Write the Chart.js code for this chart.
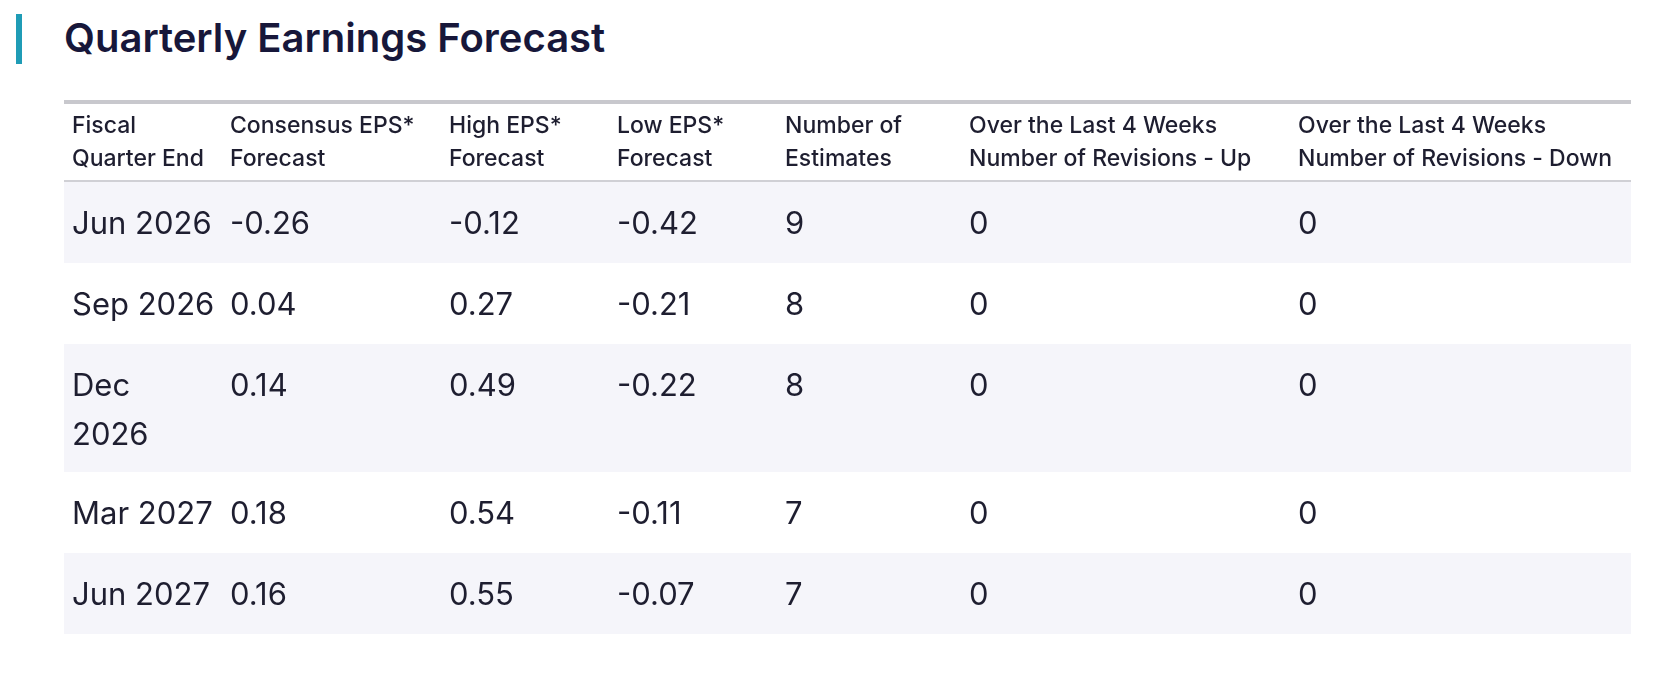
<!DOCTYPE html>
<html>
<head>
<meta charset="utf-8">
<title>Quarterly Earnings Forecast</title>
<script src="https://cdn.jsdelivr.net/npm/chart.js@4.4.1/dist/chart.umd.min.js"></script>
<style>
    html, body { margin: 0; padding: 0; background: #fff; }
    body { width: 1662px; height: 680px; position: relative; overflow: hidden; font-family: Inter, "Noto Sans", sans-serif; }
    .title { position: absolute; left: 16px; top: 14px; height: 50px; border-left: 6px solid #1f9cb6; }
    .title h2 { position: absolute; left: 42px; top: 1px; margin: 0; font-size: 40px; line-height: 46px; font-weight: 600; color: #17173a; white-space: nowrap; }
    #tableWrap { position: absolute; left: 64px; top: 100px; }
</style>
</head>
<body>
<div class="title"><h2>Quarterly Earnings Forecast</h2></div>
<div id="tableWrap"><canvas id="forecastTable"></canvas></div>
<script>
// table data
const headers = [
    ['Fiscal', 'Quarter End'],
    ['Consensus EPS*', 'Forecast'],
    ['High EPS*', 'Forecast'],
    ['Low EPS*', 'Forecast'],
    ['Number of', 'Estimates'],
    ['Over the Last 4 Weeks', 'Number of Revisions - Up'],
    ['Over the Last 4 Weeks', 'Number of Revisions - Down']
];
const quarters = ['Jun 2026', 'Sep 2026', ['Dec', '2026'], 'Mar 2027', 'Jun 2027'];
const consensusEps = [-0.26, 0.04, 0.14, 0.18, 0.16];
const highEps = [-0.12, 0.27, 0.49, 0.54, 0.55];
const lowEps = [-0.42, -0.21, -0.22, -0.11, -0.07];
const estimates = [9, 8, 8, 7, 7];
const revisionsUp = [0, 0, 0, 0, 0];
const revisionsDown = [0, 0, 0, 0, 0];

// layout
const colWidths = [158, 219, 168, 168, 184, 329, 341];
const headerHeight = 82;
const headerLine = 33;
const lineHeight = 47;
const textLine = 49;
const rowPad = 34;
const cellPadX = 8;

const fmt = v => v.toFixed(2);
const columns = [
    quarters,
    consensusEps.map(fmt),
    highEps.map(fmt),
    lowEps.map(fmt),
    estimates.map(String),
    revisionsUp.map(String),
    revisionsDown.map(String)
];

const colStarts = [];
colWidths.reduce((acc, w) => { colStarts.push(acc); return acc + w; }, 0);
const totalWidth = colWidths.reduce((a, b) => a + b, 0);

const rowLines = quarters.map(q => Array.isArray(q) ? q.length : 1);
const rowTops = [];
let totalHeight = headerHeight;
rowLines.forEach(n => { rowTops.push(totalHeight); totalHeight += rowPad + n * lineHeight; });

// one anchor point per cell, placed through the scales
const cells = [];
headers.forEach((h, c) => cells.push({ x: colStarts[c], y: 0, lines: h, header: true }));
quarters.forEach((q, r) => {
    columns.forEach((col, c) => {
        const v = col[r];
        cells.push({ x: colStarts[c], y: rowTops[r], lines: Array.isArray(v) ? v : [v], header: false, row: r });
    });
});

const tablePlugin = {
    id: 'tablePlugin',
    beforeDatasetsDraw(chart) {
        const { ctx, scales: { x, y } } = chart;
        const left = x.getPixelForValue(0);
        const right = x.getPixelForValue(totalWidth);
        ctx.save();
        // striped rows
        ctx.fillStyle = '#f5f5fa';
        rowLines.forEach((n, r) => {
            if (r % 2 !== 0) return;
            const top = y.getPixelForValue(rowTops[r]);
            const bottom = y.getPixelForValue(rowTops[r] + rowPad + n * lineHeight);
            ctx.fillRect(left, top, right - left, bottom - top);
        });
        // header rules
        ctx.fillStyle = '#c8c8cd';
        ctx.fillRect(left, y.getPixelForValue(0), right - left, 4);
        ctx.fillStyle = '#d0d0d5';
        ctx.fillRect(left, y.getPixelForValue(headerHeight) - 2, right - left, 2);
        ctx.restore();
    },
    afterDatasetsDraw(chart) {
        const { ctx } = chart;
        const meta = chart.getDatasetMeta(0);
        const data = chart.data.datasets[0].data;
        ctx.save();
        ctx.textAlign = 'left';
        ctx.textBaseline = 'middle';
        ctx.fillStyle = '#1e1e30';
        meta.data.forEach((el, i) => {
            const cell = data[i];
            if (cell.header) {
                ctx.font = '500 23px Inter, "Noto Sans", sans-serif';
                cell.lines.forEach((t, k) => ctx.fillText(t, el.x + cellPadX, el.y + 26 + k * headerLine));
            } else {
                ctx.font = '400 31px Inter, "Noto Sans", sans-serif';
                cell.lines.forEach((t, k) => ctx.fillText(t, el.x + cellPadX, el.y + 43 + k * textLine));
            }
        });
        ctx.restore();
    }
};

const canvas = document.getElementById('forecastTable');
canvas.width = totalWidth;
canvas.height = totalHeight;
canvas.style.width = totalWidth + 'px';
canvas.style.height = totalHeight + 'px';

new Chart(canvas.getContext('2d'), {
    type: 'scatter',
    data: {
        datasets: [{
            data: cells,
            pointRadius: 0,
            pointHoverRadius: 0
        }]
    },
    options: {
        responsive: false,
        animation: false,
        events: [],
        layout: { padding: 0 },
        plugins: { legend: { display: false }, tooltip: { enabled: false } },
        scales: {
            x: { type: 'linear', display: false, min: 0, max: totalWidth },
            y: { type: 'linear', display: false, reverse: true, min: 0, max: totalHeight }
        }
    },
    plugins: [tablePlugin]
});
</script>
</body>
</html>
